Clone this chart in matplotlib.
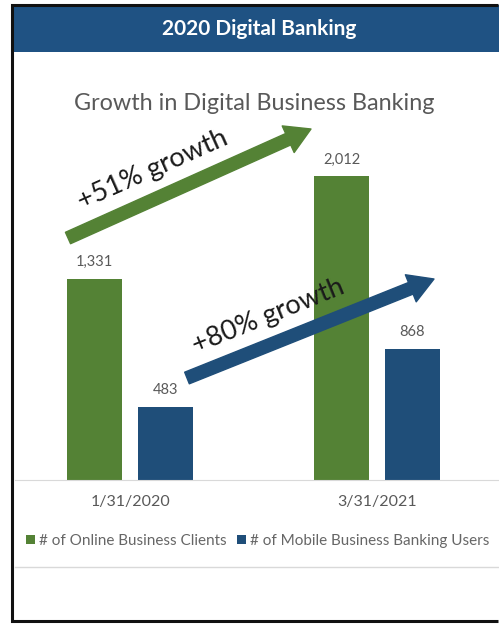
import matplotlib.pyplot as plt
from matplotlib.patches import Rectangle, FancyArrowPatch
from matplotlib.lines import Line2D
import numpy as np

plt.rcParams['font.family'] = ['Lato', 'DejaVu Sans']

dates = ["1/31/2020", "3/31/2021"]
online_clients = [1331, 2012]
mobile_users = [483, 868]
series_names = ["# of Online Business Clients", "# of Mobile Business Banking Users"]

GREEN = "#548235"
BLUE = "#1f4e79"
GREY = "#595959"

W, H = 499, 624


def fx(x):
    return x / W


def fy(y):
    return 1 - y / H


fig = plt.figure(figsize=(W / 100, H / 100), dpi=100)
fig.patch.set_facecolor("white")

# header band
fig.add_artist(Rectangle((fx(12), fy(52)), fx(W - 12), 47 / H, transform=fig.transFigure,
                         facecolor="#1f5283", edgecolor="none"))
# outer frame: left, top and bottom sides, stopping just short of the right edge
fx_pts = [fx(W - 1), fx(12), fx(12), fx(W - 1)]
fy_pts = [fy(5), fy(5), fy(621), fy(621)]
fig.add_artist(Line2D(fx_pts, fy_pts, transform=fig.transFigure, color="#111111",
                      linewidth=2.2, solid_joinstyle="miter", solid_capstyle="butt"))

fig.text(fx(259), fy(29), "2020 Digital Banking", color="white", fontsize=15,
         fontweight="bold", ha="center", va="center")
fig.text(fx(254), fy(104), "Growth in Digital Business Banking", color=GREY,
         fontsize=16.8, ha="center", va="center")

# bar area: baseline at y=480 px, 0.151 px per unit
ax = fig.add_axes([fx(15), fy(480), fx(W - 16), 360 / H])
ax.set_xlim(-0.466, 1.49)
ax.set_ylim(0, 360 / 0.151)
x = np.arange(len(dates))
off, bw = 0.143, 0.223
b1 = ax.bar(x - off, online_clients, bw, color=GREEN, label=series_names[0])
b2 = ax.bar(x + off, mobile_users, bw, color=BLUE, label=series_names[1])
for bars, vals in ((b1, online_clients), (b2, mobile_users)):
    for r, v in zip(bars, vals):
        ax.annotate(f"{v:,}", (r.get_x() + r.get_width() / 2, v), xytext=(0, 7),
                    textcoords="offset points", ha="center", va="bottom",
                    fontsize=10.5, color=GREY)
for s in ("top", "right", "left"):
    ax.spines[s].set_visible(False)
ax.spines["bottom"].set_color("#d9d9d9")
ax.set_yticks([])
ax.set_xticks(x)
ax.set_xticklabels(dates, fontsize=11.5, color=GREY)
ax.tick_params(axis="x", length=0, pad=11)
ax.patch.set_alpha(0)

# legend row and separator
leg = ax.legend(loc="upper left", bbox_to_anchor=(fx(20), fy(528)),
                bbox_transform=fig.transFigure, ncol=2, frameon=False,
                fontsize=11, handlelength=0.55, handleheight=0.55,
                handletextpad=0.3, columnspacing=0.7, borderaxespad=0)
for t in leg.get_texts():
    t.set_color("#666666")
fig.add_artist(Line2D([fx(15), fx(W - 1)], [fy(567), fy(567)], transform=fig.transFigure,
                      color="#d9d9d9", linewidth=1))

# growth arrows
g1 = round((online_clients[1] / online_clients[0] - 1) * 100)
g2 = round((mobile_users[1] / mobile_users[0] - 1) * 100)
arrows = [((68, 238), (311, 129), GREEN), ((187, 378), (434, 279), BLUE)]
for (p0, p1, c) in arrows:
    fig.add_artist(FancyArrowPatch((fx(p0[0]), fy(p0[1])), (fx(p1[0]), fy(p1[1])),
                                   transform=fig.transFigure,
                                   arrowstyle="simple,head_length=1.8,head_width=2.1,tail_width=0.9",
                                   mutation_scale=10, color=c, shrinkA=0, shrinkB=0))
fig.text(fx(153), fy(170), f"+{g1}% growth", rotation=24, fontsize=19.5,
         color="#1a1a1a", ha="center", va="center", rotation_mode="anchor")
fig.text(fx(268), fy(316), f"+{g2}% growth", rotation=22, fontsize=19.5,
         color="#1a1a1a", ha="center", va="center", rotation_mode="anchor")

fig.savefig("out.png", dpi=100)
